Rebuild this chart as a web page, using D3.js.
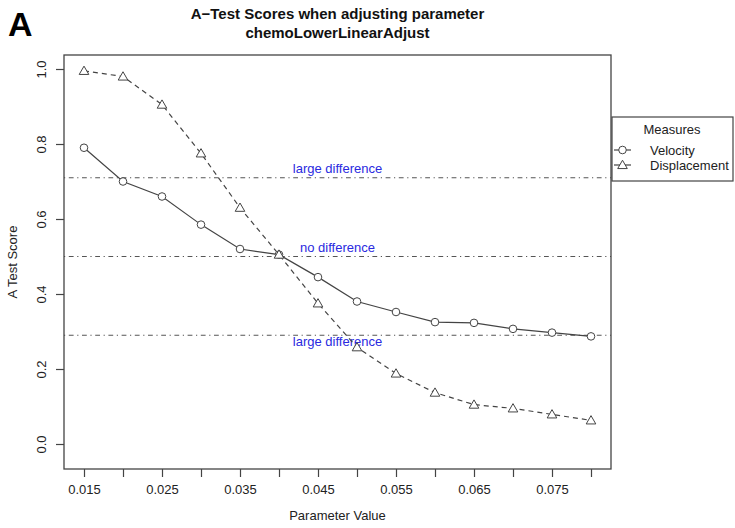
<!DOCTYPE html>
<html><head><meta charset="utf-8">
<script src="https://cdn.jsdelivr.net/npm/d3@7"></script>
<style>
body{margin:0;background:#fff;}
svg{display:block;font-family:"Liberation Sans Narrow","Liberation Sans",Arial,sans-serif;}
</style></head>
<body>
<svg id="c" width="735" height="528"></svg>
<script>
const params = [0.015,0.020,0.025,0.030,0.035,0.040,0.045,0.050,0.055,0.060,0.065,0.070,0.075,0.080];
const velocity = [0.79,0.70,0.66,0.585,0.52,0.505,0.445,0.38,0.352,0.325,0.323,0.307,0.297,0.287];
const displacement = [0.995,0.98,0.905,0.775,0.63,0.505,0.375,0.258,0.188,0.137,0.105,0.095,0.079,0.063];
const xTickValues = [0.015,0.020,0.025,0.030,0.035,0.040,0.045,0.050,0.055,0.060,0.065,0.070,0.075,0.080];
const xTickLabels = ["0.015","","0.025","","0.035","","0.045","","0.055","","0.065","","0.075",""];
const yTickValues = [0.0,0.2,0.4,0.6,0.8,1.0];
const yTickLabels = ["0.0","0.2","0.4","0.6","0.8","1.0"];
const refLines = [0.71,0.5,0.29];
const refLabels = ["large difference","no difference","large difference"];
const seriesNames = ["Velocity","Displacement"];
const titleLines = ["A\u2212Test Scores when adjusting parameter","chemoLowerLinearAdjust"];

const svg = d3.select("#c");
const box = {left:64, right:611, top:55, bottom:469};
const x = d3.scaleLinear().domain([0.015,0.080]).range([84,591]);
const y = d3.scaleLinear().domain([0,1]).range([444,69]);
const ink = "#333";

// panel letter
svg.append("text").attr("x",8).attr("y",36).attr("font-size",34).attr("font-weight","bold")
  .attr("font-family","'Liberation Sans Narrow','Liberation Sans',Arial").attr("fill","#000").text("A");

// title
titleLines.forEach((t,i)=>{
  svg.append("text").attr("x",(box.left+box.right)/2).attr("y",19+i*19).attr("text-anchor","middle")
    .attr("font-size",15).attr("font-weight","bold").attr("fill","#111").text(t);
});

// reference lines
refLines.forEach((v,i)=>{
  svg.append("line").attr("x1",box.left).attr("x2",box.right).attr("y1",y(v)).attr("y2",y(v))
    .attr("stroke","#555").attr("stroke-width",1.2).attr("stroke-dasharray","1.2 3.6 4.8 3.6");
  const dy = i===2 ? 11 : -5;
  svg.append("text").attr("x",(box.left+box.right)/2).attr("y",y(v)+dy).attr("text-anchor","middle")
    .attr("font-size",13).attr("fill","#2a2ae0").text(refLabels[i]);
});

// lines
const line = d3.line().x((d,i)=>x(params[i])).y(d=>y(d));
svg.append("path").datum(velocity).attr("d",line).attr("fill","none").attr("stroke","#444").attr("stroke-width",1.2);
svg.append("path").datum(displacement).attr("d",line).attr("fill","none").attr("stroke","#444").attr("stroke-width",1.2)
  .attr("stroke-dasharray","5 4");

// points
const circ = (g,cx,cy)=> g.append("circle").attr("cx",cx).attr("cy",cy).attr("r",3.8).attr("fill","#fff").attr("stroke","#444").attr("stroke-width",1);
const tri = (g,cx,cy)=> g.append("path").attr("d",d3.symbol(d3.symbolTriangle,40)()).attr("transform",`translate(${cx},${cy+0.8})`)
  .attr("fill","#fff").attr("stroke","#444").attr("stroke-width",1);
velocity.forEach((v,i)=>circ(svg,x(params[i]),y(v)));
displacement.forEach((v,i)=>tri(svg,x(params[i]),y(v)));

// box
svg.append("rect").attr("x",box.left).attr("y",box.top).attr("width",box.right-box.left).attr("height",box.bottom-box.top)
  .attr("fill","none").attr("stroke","#444").attr("stroke-width",1.3);

// x axis
const xa = svg.append("g").attr("transform",`translate(0,${box.bottom})`)
  .call(d3.axisBottom(x).tickValues(xTickValues).tickSize(8).tickPadding(8).tickFormat((d,i)=>xTickLabels[i]));
xa.select(".domain").remove();
xa.selectAll("line").attr("stroke","#444").attr("stroke-width",1.2);
xa.selectAll("text").attr("font-size",13).attr("fill","#222").attr("font-family",null);

// y axis
const ya = svg.append("g").attr("transform",`translate(${box.left},0)`)
  .call(d3.axisLeft(y).tickValues(yTickValues).tickSize(8).tickFormat((d,i)=>yTickLabels[i]));
ya.select(".domain").remove();
ya.selectAll("line").attr("stroke","#444").attr("stroke-width",1.2);
ya.selectAll("text").attr("font-size",13).attr("fill","#222").attr("font-family",null)
  .attr("text-anchor","middle").attr("x",0).attr("dy",null)
  .attr("transform",function(){return "translate(-22,0) rotate(-90)";}).attr("y",4);

// axis titles
svg.append("text").attr("x",(box.left+box.right)/2).attr("y",520).attr("text-anchor","middle")
  .attr("font-size",13).attr("fill","#222").text("Parameter Value");
svg.append("text").attr("transform",`translate(17,${(box.top+box.bottom)/2}) rotate(-90)`).attr("text-anchor","middle")
  .attr("font-size",13).attr("fill","#222").text("A Test Score");

// legend
const lg = svg.append("g");
lg.append("rect").attr("x",612).attr("y",117).attr("width",121).attr("height",64).attr("fill","#fff").attr("stroke","#444").attr("stroke-width",1.2);
lg.append("text").attr("x",672).attr("y",134).attr("text-anchor","middle").attr("font-size",13).attr("fill","#222").text("Measures");
seriesNames.forEach((n,i)=>{
  const yy = 150+i*15;
  lg.append("line").attr("x1",614).attr("x2",631).attr("y1",yy).attr("y2",yy).attr("stroke","#444").attr("stroke-width",1.2);
  if(i===0) circ(lg,622.5,yy); else tri(lg,622.5,yy);
  lg.append("text").attr("x",650).attr("y",yy+4.5).attr("font-size",13).attr("fill","#222").text(n);
});
</script>
</body></html>
